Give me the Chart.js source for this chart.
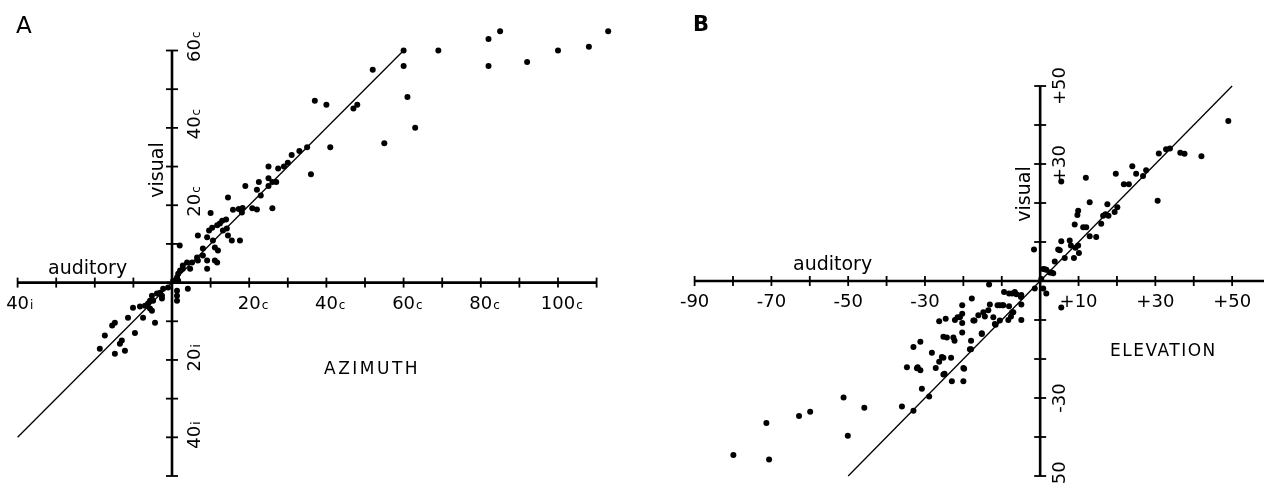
<!DOCTYPE html>
<html><head><meta charset="utf-8">
<script src="https://cdn.jsdelivr.net/npm/chart.js@4.4.0/dist/chart.umd.min.js"></script>
<style>
html,body{margin:0;padding:0;background:#fff;width:1267px;height:485px;overflow:hidden}
#a{position:absolute;left:0;top:0}
#b{position:absolute;left:640px;top:0}
</style></head><body>
<canvas id="a" width="640" height="485"></canvas>
<canvas id="b" width="627" height="485"></canvas>
<script>
// ---------- Panel A: AZIMUTH ----------
const azimuthAuditory = [60,69,82,85,82,92,100,108,113,52,60,37,40,47,48,61,63,55,41,35,36,
 33,31,30,29,27.5,25,25,22.5,25,26,27,19,14.5,23,22,26,22,20.8,18.3,17.3,15.8,18.1,
 10,14,13,12.4,10.4,11.7,9.6,13.2,14.5,15.5,17.6,14.2,6.7,9.1,10.6,11.1,11.9,11.7,11.1,8,8,9.1,9.1,
 6.5,6.7,5.2,3.9,2.8,2.8,4.7,2.1,1.6,1.3,0.3,1.6,2,
 4.1,1.3,1.3,1.3,-1,-2.3,-3.1,-2.6,-2.6,-3.9,-5.2,-4.9,-5.7,-6.2,-7,-8.3,-10.1,-5.7,-5.2,-7.5,-4.4,
 -11.4,-14.8,-15.5,-9.6,-17.4,-13,-13.5,-18.7,-14.8,-12.2];
const azimuthVisual = [60,60,63,65,56,57,60,61,65,55,56,47,46,45,46,48,40,36,35,35,28,
 34,33,31,30,29.5,30,27,26,25,26,26,25,22,22.5,24,19.2,18.9,19.2,19.3,19,18.8,18.1,
 18,16.3,16,15.3,14.2,14.8,13.5,13.5,12.2,10.9,10.9,14,12.2,11.7,10.9,9.1,8.3,5.2,5.7,8.8,7,5.7,3.6,
 6.5,5.7,5.2,5.2,4.4,3.6,3.6,3.1,2.3,1.3,0.5,0.5,9.6,
 -1.6,-2.1,-3.4,-4.7,-1.3,-1.6,-2.6,-3.4,-4.1,-2.8,-3.4,-4.7,-4.7,-5.4,-6,-6.2,-6.5,-6.7,-7.3,-9.1,-10.4,
 -9.1,-10.4,-11.1,-13,-13.7,-15,-15.8,-17.1,-18.4,-17.6];
const azimuthLine = [-40, 60];
const azimuthXTicks = [-40,-30,-20,-10,0,10,20,30,40,50,60,70,80,90,100,110];
const azimuthYTicks = [-50,-40,-30,-20,-10,0,10,20,30,40,50,60];
const azimuthXLabelValues = [-40,20,40,60,80,100];
const azimuthXLabelNumbers = ['40','20','40','60','80','100'];
const azimuthXLabelSubs = ['i','c','c','c','c','c'];
const azimuthYLabelValues = [60,40,20,-20,-40];
const azimuthYLabelNumbers = ['60','40','20','20','40'];
const azimuthYLabelSubs = ['c','c','c','i','i'];

// ---------- Panel B: ELEVATION ----------
const elevationAuditory = [49,42,36.5,37.6,33.8,32.8,30.9,30.6,27.6,26.8,25,24,23.1,21.8,19.7,20.1,19.4,17.5,17.8,17,16.4,15.9,
 14.6,12.9,12.9,11.9,12,11.2,9.9,9.7,9,9.9,10.1,9.2,8.8,7.7,8,5.5,6.4,5.5,4.7,5.1,3.8,3.4,2.5,1.6,0.8,-1.6,1.2,2.9,0.3,
 -1.4,0.8,1.6,5.5,-4.9,-4.9,-4.9,-6.6,-7.3,-8.1,-9.4,-7,-7.6,-8.3,-9.6,-10.5,-11.1,-10.5,-11.6,-13.3,-13.1,-13.5,-14.8,
 -16.1,-17.1,-15.2,-18,-18,-17.8,-20.3,-20.3,-20.9,-20.3,-22.6,-24.3,-22.2,-24.6,-23.2,-25.2,-25.2,-23,-20,-20,
 -14.4,-12.2,-9.8,-8.1,-7.3,-11.8,-26.3,-21.5,-20.3,-17.4,-6.2,-5,
 -25.2,-22.3,-15.2,-18.3,-31.2,-33,-28.2,-25.6,-26.3,-27.2,-24.9,-19.8,-34.7,-31.9,-32.1,-31.2,-30.8,-28.9,-33,-36,
 -45.8,-51.2,-79.9,-70.6,-71.3,-62.8,-59.9,-50.1];
const elevationVisual = [41,32,32.9,32.6,34,33.8,32.7,20.6,28.4,26.9,27.5,29.4,24.8,24.8,27.5,18.9,17.7,19.7,16.7,17.1,16.7,14.7,
 11.3,11.5,20.2,26.5,13.8,13.8,18,16.9,14.5,9.1,7.2,8.5,5.9,10.4,9.1,10.2,5.9,25.5,8.1,7.9,5,2,2.2,2.9,3.1,8.1,3,2.2,0.5,
 -1.9,-1.9,-3.2,-6.8,-3.6,-6,-10,-2.8,-3.2,-3.2,-2.8,-8,-9.1,-10,-6.2,-6.2,-6.2,-10.1,-11.2,-0.9,-6,-7.5,-8,
 -8.8,-10.1,-13.6,-15.3,-17.5,-4.5,-6.2,-8.4,-9.3,-13.2,-14.5,-14.5,-10,-9.7,-19.7,-19.7,-24,-25.7,-25.7,-22.3,
 -9.1,-9.3,-6.2,-6.5,-8,-11,-10.3,-9.3,-10.8,-10.1,-3.4,-4.1,
 -14.3,-15.3,-13.4,-17.5,-15.6,-16.9,-18.4,-19.5,-20.7,-22.3,-23.8,-22.5,-22.1,-22.1,-22.4,-22.9,-27.6,-29.6,-33.3,-32.2,
 -32.5,-29.9,-44.6,-45.8,-36.4,-34.6,-33.5,-39.7];
const elevationLine = [-50, 50];
const elevationXTicks = [-90,-80,-70,-60,-50,-40,-30,-20,-10,0,10,20,30,40,50];
const elevationYTicks = [-50,-40,-30,-20,-10,0,10,20,30,40,50];
const elevationXLabelValues = [-90,-70,-50,-30,10,30,50];
const elevationXLabelNumbers = ['-90','-70','-50','-30','+10','+30','+50'];
const elevationYLabelValues = [50,30,-30,-50];
const elevationYLabelNumbers = ['+50','+30','-30','-50'];

const FONT = '"DejaVu Sans", sans-serif';

const crossAxes = {
  id: 'crossAxes',
  beforeDatasetsDraw(chart, args, o) {
    const {ctx, scales: {x, y}} = chart;
    const x0 = x.getPixelForValue(0), y0 = y.getPixelForValue(0);
    ctx.save();
    ctx.strokeStyle = '#000';
    ctx.lineWidth = 2.6;
    ctx.beginPath();
    ctx.moveTo(x.getPixelForValue(o.xRange[0]), y0);
    ctx.lineTo(x.getPixelForValue(o.xRange[1]), y0);
    ctx.stroke();
    ctx.beginPath();
    ctx.moveTo(x0, y.getPixelForValue(o.yRange[0]));
    ctx.lineTo(x0, y.getPixelForValue(o.yRange[1]));
    ctx.stroke();
    ctx.lineWidth = 1.8;
    o.xTicks.forEach(v => {
      const p = x.getPixelForValue(v);
      ctx.beginPath(); ctx.moveTo(p, y0 - 5); ctx.lineTo(p, y0 + 5); ctx.stroke();
    });
    o.yTicks.forEach(v => {
      const p = y.getPixelForValue(v);
      ctx.beginPath(); ctx.moveTo(x0 - 6, p); ctx.lineTo(x0 + 6, p); ctx.stroke();
    });
    ctx.restore();
  },
  afterDatasetsDraw(chart, args, o) {
    const {ctx, scales: {x, y}} = chart;
    const x0 = x.getPixelForValue(0), y0 = y.getPixelForValue(0);
    ctx.save();
    ctx.fillStyle = '#000';
    ctx.textBaseline = 'alphabetic';
    o.xLabelValues.forEach((v, i) => {
      const p = x.getPixelForValue(v);
      ctx.font = '18px ' + FONT;
      ctx.textAlign = 'center';
      const num = o.xLabelNumbers[i];
      const w = ctx.measureText(num).width;
      ctx.fillText(num, p, y0 + 26);
      if (o.xLabelSubs) {
        ctx.font = '12px ' + FONT;
        ctx.textAlign = 'left';
        ctx.fillText(o.xLabelSubs[i], p + w / 2 + 1, y0 + 26);
      }
    });
    o.yLabelValues.forEach((v, i) => {
      const p = y.getPixelForValue(v);
      ctx.save();
      ctx.translate(x0 + o.yLabelOffset, p);
      ctx.rotate(-Math.PI / 2);
      ctx.font = '18px ' + FONT;
      ctx.textAlign = 'center';
      const num = o.yLabelNumbers[i];
      const w = ctx.measureText(num).width;
      ctx.fillText(num, 0, 0);
      if (o.yLabelSubs) {
        ctx.font = '12px ' + FONT;
        ctx.textAlign = 'left';
        ctx.fillText(o.yLabelSubs[i], w / 2 + 1, 0);
      }
      ctx.restore();
    });
    o.texts.forEach(t => {
      ctx.save();
      ctx.font = t.font;
      ctx.letterSpacing = t.spacing || '0px';
      ctx.textAlign = t.align || 'left';
      ctx.translate(t.x, t.y);
      if (t.rot) ctx.rotate(t.rot);
      ctx.fillText(t.text, 0, 0);
      ctx.restore();
    });
    ctx.restore();
  }
};

function makeChart(id, xs, ys, line, pad, xr, yr, axOpts) {
  const pts = xs.map((v, i) => ({x: v, y: ys[i]}));
  return new Chart(document.getElementById(id), {
    type: 'scatter',
    data: {
      datasets: [
        {type: 'line', data: [{x: line[0], y: line[0]}, {x: line[1], y: line[1]}],
         borderColor: '#000', borderWidth: 1.3, pointRadius: 0, fill: false, clip: false, order: 2},
        {data: pts, backgroundColor: '#000', borderWidth: 0, pointRadius: 3,
         pointHoverRadius: 3, clip: false, order: 1}
      ]
    },
    options: {
      responsive: false, animation: false, devicePixelRatio: 1,
      layout: {padding: pad},
      scales: {
        x: {type: 'linear', min: xr[0], max: xr[1], display: false},
        y: {type: 'linear', min: yr[0], max: yr[1], display: false}
      },
      plugins: {legend: {display: false}, tooltip: {enabled: false}, crossAxes: axOpts}
    },
    plugins: [crossAxes]
  });
}

makeChart('a', azimuthAuditory, azimuthVisual, azimuthLine,
  {left: 17.6, right: 24.1, top: 27.3, bottom: 9}, [-40, 115], [-50, 66], {
    xRange: [-40, 110], yRange: [-50, 60],
    xTicks: azimuthXTicks, yTicks: azimuthYTicks,
    xLabelValues: azimuthXLabelValues, xLabelNumbers: azimuthXLabelNumbers, xLabelSubs: azimuthXLabelSubs,
    yLabelValues: azimuthYLabelValues, yLabelNumbers: azimuthYLabelNumbers, yLabelSubs: azimuthYLabelSubs,
    yLabelOffset: 28,
    texts: [
      {text: 'A', x: 16, y: 33, font: '23px ' + FONT},
      {text: 'auditory', x: 48, y: 274, font: '19px ' + FONT},
      {text: 'visual', x: 163, y: 170, font: '19px ' + FONT, rot: -Math.PI / 2, align: 'center'},
      {text: 'AZIMUTH', x: 324, y: 374, font: '17px ' + FONT, spacing: '2.5px'}
    ]
  });

makeChart('b', elevationAuditory, elevationVisual, elevationLine,
  {left: 54.6, right: 0, top: 86, bottom: 9}, [-90, 58.3], [-50, 50], {
    xRange: [-90, 58.3], yRange: [-50, 50],
    xTicks: elevationXTicks, yTicks: elevationYTicks,
    xLabelValues: elevationXLabelValues, xLabelNumbers: elevationXLabelNumbers,
    yLabelValues: elevationYLabelValues, yLabelNumbers: elevationYLabelNumbers,
    yLabelOffset: 25,
    texts: [
      {text: 'B', x: 53, y: 31, font: 'bold 21px ' + FONT},
      {text: 'auditory', x: 153, y: 270, font: '19px ' + FONT},
      {text: 'visual', x: 390, y: 194, font: '19px ' + FONT, rot: -Math.PI / 2, align: 'center'},
      {text: 'ELEVATION', x: 470, y: 356, font: '17px ' + FONT, spacing: '1.5px'}
    ]
  });
</script>
</body></html>
